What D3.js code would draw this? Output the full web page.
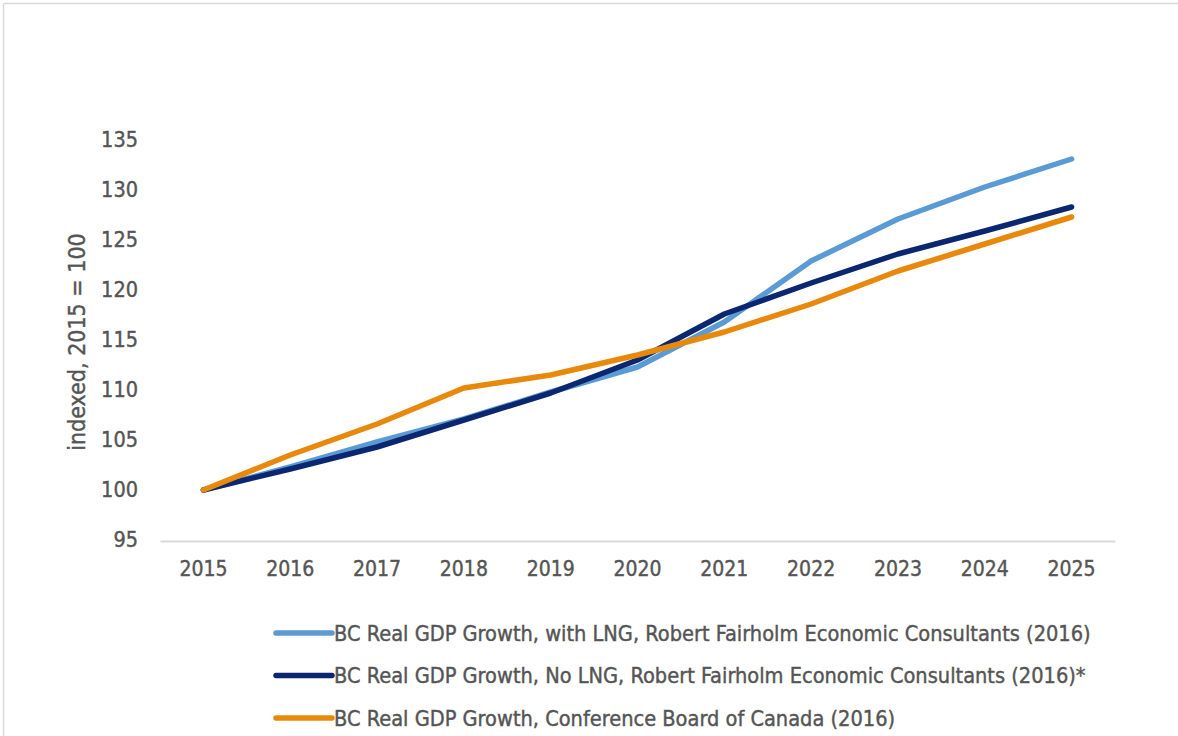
<!DOCTYPE html>
<html>
<head>
<meta charset="utf-8">
<script src="https://cdn.jsdelivr.net/npm/d3@7"></script>
<style>
  html, body { margin: 0; padding: 0; background: #fff; }
  svg { display: block; }
  text { font-family: "Liberation Sans Narrow", "DejaVu Sans Condensed", "Open Sans", sans-serif; fill: #555555; stroke: #555555; stroke-width: 0.4px; }
</style>
</head>
<body>
<svg id="chart" width="1178" height="736"></svg>
<script>
// Years on the horizontal axis
const years = ["2015", "2016", "2017", "2018", "2019", "2020", "2021", "2022", "2023", "2024", "2025"];

// Real GDP index, 2015 = 100
const withLNG      = [100, 102.3, 104.8, 107.1, 109.8, 112.3, 116.8, 122.9, 127.1, 130.3, 133.1];
const noLNG        = [100, 102.1, 104.3, 107.0, 109.7, 113.0, 117.6, 120.7, 123.6, 125.9, 128.3];
const confBoard    = [100, 103.5, 106.6, 110.2, 111.5, 113.5, 115.8, 118.6, 121.9, 124.6, 127.3];

// Axis tick values
const yTicks = [95, 100, 105, 110, 115, 120, 125, 130, 135];

const seriesNames = [
  "BC Real GDP Growth, with LNG, Robert Fairholm Economic Consultants (2016)",
  "BC Real GDP Growth, No LNG, Robert Fairholm Economic Consultants (2016)*",
  "BC Real GDP Growth, Conference Board of Canada (2016)"
];
const seriesColors = ["#5b9bd5", "#0b2770", "#e8890c"];

const svg = d3.select("#chart");

// Frame edges (top and left)
svg.append("line").attr("x1", 3.5).attr("x2", 1178).attr("y1", 3.5).attr("y2", 3.5)
  .attr("stroke", "#d9d9d9").attr("stroke-width", 1.5);
svg.append("line").attr("x1", 3.5).attr("x2", 3.5).attr("y1", 3.5).attr("y2", 736)
  .attr("stroke", "#d9d9d9").attr("stroke-width", 1.5);

const x = d3.scaleBand().domain(years).range([160, 1115]);
const y = d3.scaleLinear().domain([95, 135]).range([540, 140]);

// Horizontal axis baseline and year labels
const xAxis = d3.axisBottom(x).tickSize(0).tickPadding(20);
const gx = svg.append("g").attr("transform", "translate(0,541)").call(xAxis);
gx.select(".domain").attr("stroke", "#d9d9d9").attr("stroke-width", 2);
gx.selectAll("text").attr("font-size", 21).attr("fill", "#555555").style("font-family", null);

// Vertical axis labels only
const yAxis = d3.axisLeft(y).tickValues(yTicks).tickSize(0).tickPadding(0);
const gy = svg.append("g").attr("transform", "translate(138,0)").call(yAxis);
gy.select(".domain").remove();
gy.selectAll("text").attr("font-size", 21.5).attr("fill", "#555555").style("font-family", null);

// Y axis title
svg.append("text")
  .attr("transform", "translate(85,342) rotate(-90)")
  .attr("text-anchor", "middle")
  .attr("font-size", 23)
  .text("indexed, 2015 = 100");

// Series lines
const line = d3.line()
  .x((d, i) => x(years[i]) + x.bandwidth() / 2)
  .y(d => y(d));

[withLNG, noLNG, confBoard].forEach((vals, k) => {
  svg.append("path")
    .datum(vals)
    .attr("d", line)
    .attr("fill", "none")
    .attr("stroke", seriesColors[k])
    .attr("stroke-width", 5.5)
    .attr("stroke-linecap", "round")
    .attr("stroke-linejoin", "round");
});

// Legend
const legend = svg.append("g");
seriesNames.forEach((name, k) => {
  const ly = 633 + k * 42.5;
  legend.append("line")
    .attr("x1", 276).attr("x2", 332).attr("y1", ly).attr("y2", ly)
    .attr("stroke", seriesColors[k]).attr("stroke-width", 5.5)
    .attr("stroke-linecap", "round");
  legend.append("text")
    .attr("x", 334).attr("y", ly)
    .attr("dy", "0.35em")
    .attr("font-size", 21.6)
    .text(name);
});
</script>
</body>
</html>
